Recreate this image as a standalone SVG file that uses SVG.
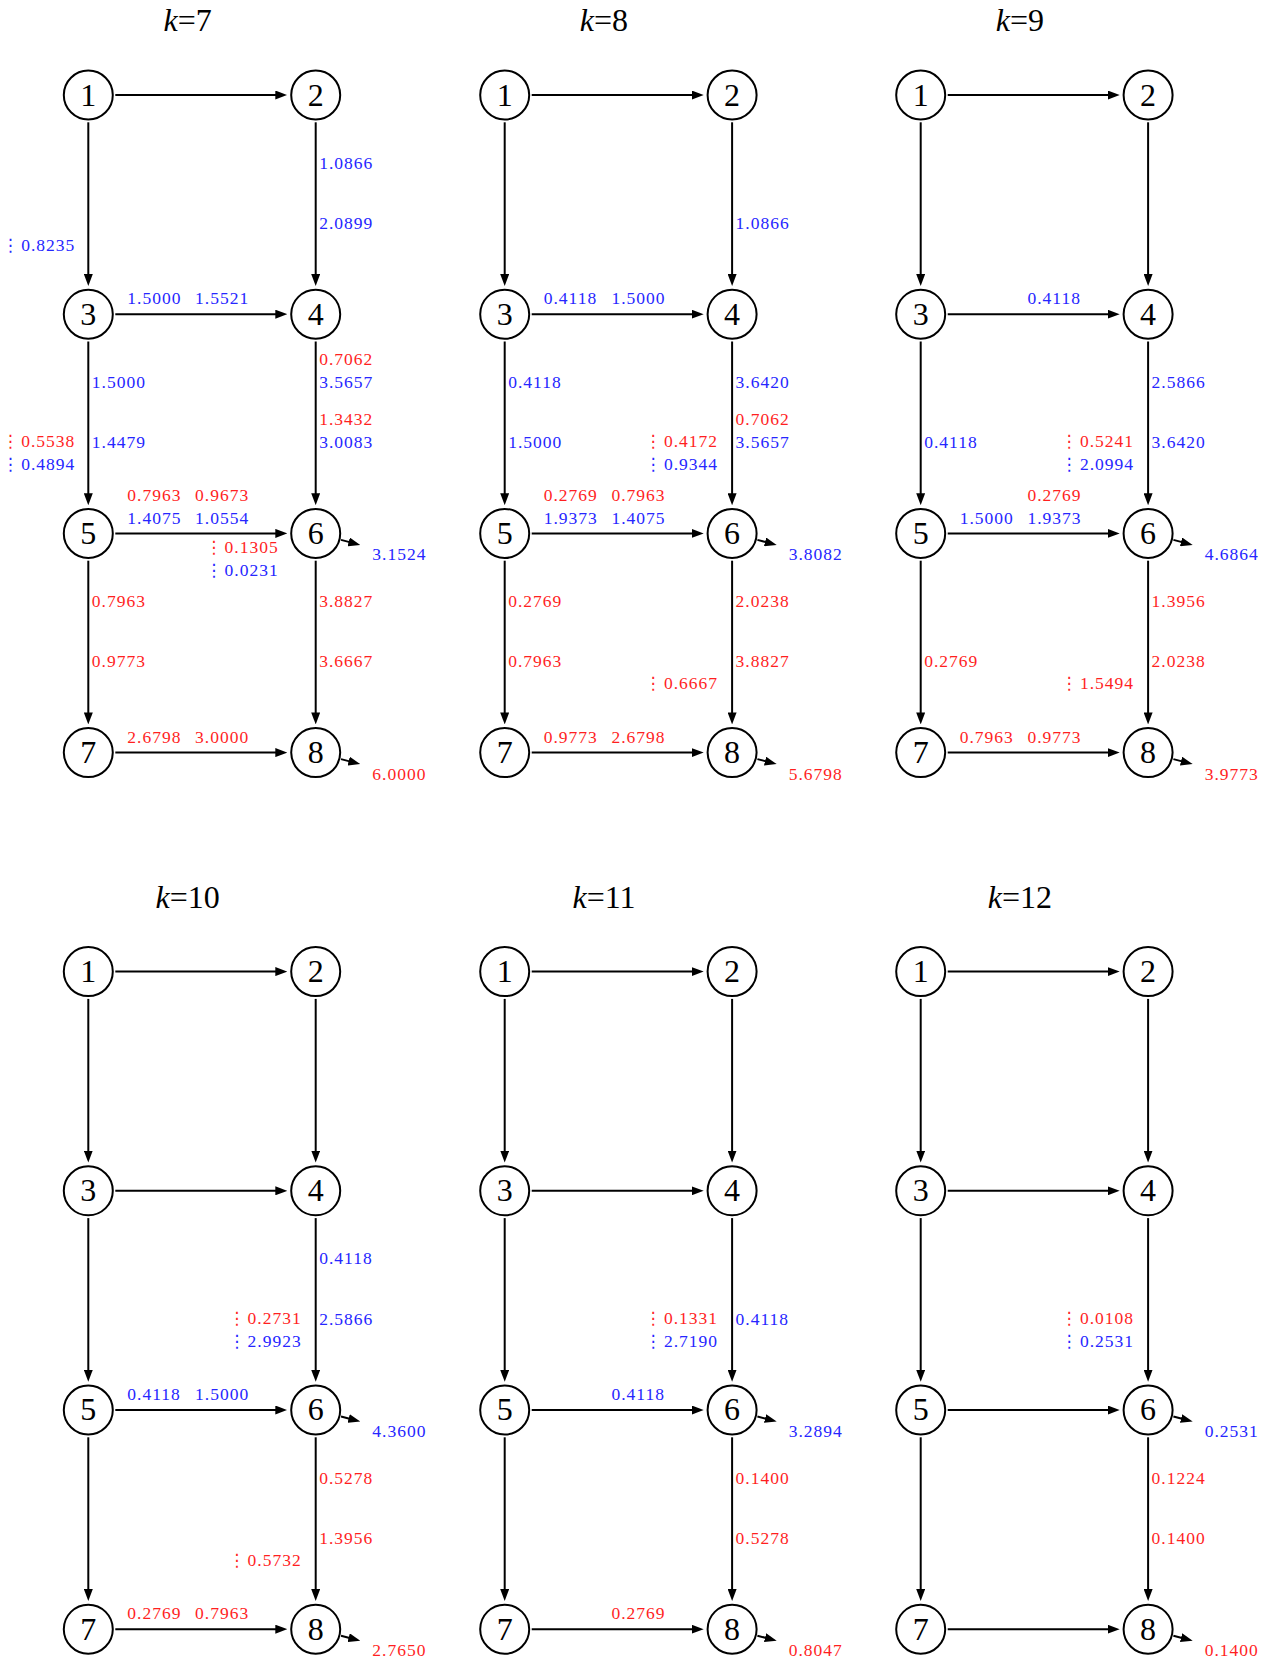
<svg xmlns="http://www.w3.org/2000/svg" width="1271" height="1661" viewBox="0 0 1271 1661">
<style>
.bg{fill:#fff}
.node circle{fill:#fff;stroke:#000;stroke-width:2}
.node text{font-family:"Liberation Serif","DejaVu Serif",serif;font-size:32px;text-anchor:middle;fill:#000}
.title{font-family:"Liberation Serif","DejaVu Serif",serif;font-size:32px;text-anchor:middle;fill:#000}
.edges line{stroke:#000;stroke-width:2;fill:none;marker-end:url(#ah)}
.labels text{font-family:"Liberation Serif","DejaVu Serif",serif;font-size:17.5px;letter-spacing:1px}
.r{fill:#ff1f1f}
.b{fill:#2626ff}
.e{text-anchor:end}
.vd{font-family:"DejaVu Sans",sans-serif;font-size:17px;letter-spacing:-3px}
</style>
<defs>
<marker id="ah" markerUnits="userSpaceOnUse" markerWidth="12" markerHeight="9" refX="2" refY="4.5" orient="auto">
<path d="M0,0 L12,4.5 L0,9 Z" fill="#000"/>
</marker>
</defs>
<rect class="bg" x="0" y="0" width="1271" height="1661"/>

<!-- k=7 -->
<g id="k7" transform="translate(0,0)">
<text class="title" x="187.6" y="31"><tspan font-style="italic">k</tspan>=7</text>
<g id="k7-connectors" class="edges">
<line x1="115.3" y1="95" x2="277.3" y2="95"/>
<line x1="88.3" y1="122.3" x2="88.3" y2="276"/>
<line x1="315.7" y1="122.3" x2="315.7" y2="276"/>
<line x1="115.3" y1="314.2" x2="277.3" y2="314.2"/>
<line x1="88.3" y1="341.5" x2="88.3" y2="495.2"/>
<line x1="315.7" y1="341.5" x2="315.7" y2="495.2"/>
<line x1="115.3" y1="533.4" x2="277.3" y2="533.4"/>
<line x1="88.3" y1="560.7" x2="88.3" y2="714.4"/>
<line x1="315.7" y1="560.7" x2="315.7" y2="714.4"/>
<line x1="115.3" y1="752.6" x2="277.3" y2="752.6"/>
<line x1="341" y1="539.9" x2="350.6" y2="542.4"/>
<line x1="341" y1="759.1" x2="350.6" y2="761.6"/>
</g>
<g id="k7-n1" class="node"><circle cx="88.3" cy="95" r="24.5"/><text x="88.3" y="105.5">1</text></g>
<g id="k7-n2" class="node"><circle cx="315.7" cy="95" r="24.5"/><text x="315.7" y="105.5">2</text></g>
<g id="k7-n3" class="node"><circle cx="88.3" cy="314.2" r="24.5"/><text x="88.3" y="324.7">3</text></g>
<g id="k7-n4" class="node"><circle cx="315.7" cy="314.2" r="24.5"/><text x="315.7" y="324.7">4</text></g>
<g id="k7-n5" class="node"><circle cx="88.3" cy="533.4" r="24.5"/><text x="88.3" y="543.9">5</text></g>
<g id="k7-n6" class="node"><circle cx="315.7" cy="533.4" r="24.5"/><text x="315.7" y="543.9">6</text></g>
<g id="k7-n7" class="node"><circle cx="88.3" cy="752.6" r="24.5"/><text x="88.3" y="763.1">7</text></g>
<g id="k7-n8" class="node"><circle cx="315.7" cy="752.6" r="24.5"/><text x="315.7" y="763.1">8</text></g>
<g id="k7-labels" class="labels">
<text class="b" x="319.2" y="168.7">1.0866</text>
<text class="b" x="319.2" y="229">2.0899</text>
<text class="b e" x="75.3" y="250.8"><tspan class="vd">⋮</tspan> 0.8235</text>
<text class="b" x="127.3" y="304.4">1.5000</text>
<text class="b" x="195" y="304.4">1.5521</text>
<text class="r" x="319.2" y="364.7">0.7062</text>
<text class="b" x="319.2" y="387.9">3.5657</text>
<text class="r" x="319.2" y="425">1.3432</text>
<text class="b" x="319.2" y="448.2">3.0083</text>
<text class="b" x="91.8" y="387.9">1.5000</text>
<text class="b" x="91.8" y="448.2">1.4479</text>
<text class="r e" x="75.3" y="447.2"><tspan class="vd">⋮</tspan> 0.5538</text>
<text class="b e" x="75.3" y="470"><tspan class="vd">⋮</tspan> 0.4894</text>
<text class="r" x="127.3" y="500.9">0.7963</text>
<text class="r" x="195" y="500.9">0.9673</text>
<text class="b" x="127.3" y="523.6">1.4075</text>
<text class="b" x="195" y="523.6">1.0554</text>
<text class="r e" x="278.7" y="553.4"><tspan class="vd">⋮</tspan> 0.1305</text>
<text class="b e" x="278.7" y="576"><tspan class="vd">⋮</tspan> 0.0231</text>
<text class="b" x="372.3" y="560.4">3.1524</text>
<text class="r" x="91.8" y="607.1">0.7963</text>
<text class="r" x="91.8" y="667.4">0.9773</text>
<text class="r" x="319.2" y="607.1">3.8827</text>
<text class="r" x="319.2" y="667.4">3.6667</text>
<text class="r" x="127.3" y="742.8">2.6798</text>
<text class="r" x="195" y="742.8">3.0000</text>
<text class="r" x="372.3" y="779.6">6.0000</text>
</g>
</g>

<!-- k=8 -->
<g id="k8" transform="translate(416.4,0)">
<text class="title" x="187.6" y="31"><tspan font-style="italic">k</tspan>=8</text>
<g id="k8-connectors" class="edges">
<line x1="115.3" y1="95" x2="277.3" y2="95"/>
<line x1="88.3" y1="122.3" x2="88.3" y2="276"/>
<line x1="315.7" y1="122.3" x2="315.7" y2="276"/>
<line x1="115.3" y1="314.2" x2="277.3" y2="314.2"/>
<line x1="88.3" y1="341.5" x2="88.3" y2="495.2"/>
<line x1="315.7" y1="341.5" x2="315.7" y2="495.2"/>
<line x1="115.3" y1="533.4" x2="277.3" y2="533.4"/>
<line x1="88.3" y1="560.7" x2="88.3" y2="714.4"/>
<line x1="315.7" y1="560.7" x2="315.7" y2="714.4"/>
<line x1="115.3" y1="752.6" x2="277.3" y2="752.6"/>
<line x1="341" y1="539.9" x2="350.6" y2="542.4"/>
<line x1="341" y1="759.1" x2="350.6" y2="761.6"/>
</g>
<g id="k8-n1" class="node"><circle cx="88.3" cy="95" r="24.5"/><text x="88.3" y="105.5">1</text></g>
<g id="k8-n2" class="node"><circle cx="315.7" cy="95" r="24.5"/><text x="315.7" y="105.5">2</text></g>
<g id="k8-n3" class="node"><circle cx="88.3" cy="314.2" r="24.5"/><text x="88.3" y="324.7">3</text></g>
<g id="k8-n4" class="node"><circle cx="315.7" cy="314.2" r="24.5"/><text x="315.7" y="324.7">4</text></g>
<g id="k8-n5" class="node"><circle cx="88.3" cy="533.4" r="24.5"/><text x="88.3" y="543.9">5</text></g>
<g id="k8-n6" class="node"><circle cx="315.7" cy="533.4" r="24.5"/><text x="315.7" y="543.9">6</text></g>
<g id="k8-n7" class="node"><circle cx="88.3" cy="752.6" r="24.5"/><text x="88.3" y="763.1">7</text></g>
<g id="k8-n8" class="node"><circle cx="315.7" cy="752.6" r="24.5"/><text x="315.7" y="763.1">8</text></g>
<g id="k8-labels" class="labels">
<text class="b" x="319.2" y="229">1.0866</text>
<text class="b" x="127.3" y="304.4">0.4118</text>
<text class="b" x="195" y="304.4">1.5000</text>
<text class="b" x="91.8" y="387.9">0.4118</text>
<text class="b" x="91.8" y="448.2">1.5000</text>
<text class="b" x="319.2" y="387.9">3.6420</text>
<text class="r" x="319.2" y="425">0.7062</text>
<text class="b" x="319.2" y="448.2">3.5657</text>
<text class="r e" x="301.7" y="447.2"><tspan class="vd">⋮</tspan> 0.4172</text>
<text class="b e" x="301.7" y="470"><tspan class="vd">⋮</tspan> 0.9344</text>
<text class="r" x="127.3" y="500.9">0.2769</text>
<text class="r" x="195" y="500.9">0.7963</text>
<text class="b" x="127.3" y="523.6">1.9373</text>
<text class="b" x="195" y="523.6">1.4075</text>
<text class="b" x="372.3" y="560.4">3.8082</text>
<text class="r" x="91.8" y="607.1">0.2769</text>
<text class="r" x="91.8" y="667.4">0.7963</text>
<text class="r" x="319.2" y="607.1">2.0238</text>
<text class="r" x="319.2" y="667.4">3.8827</text>
<text class="r e" x="301.7" y="689.2"><tspan class="vd">⋮</tspan> 0.6667</text>
<text class="r" x="127.3" y="742.8">0.9773</text>
<text class="r" x="195" y="742.8">2.6798</text>
<text class="r" x="372.3" y="779.6">5.6798</text>
</g>
</g>

<!-- k=9 -->
<g id="k9" transform="translate(832.4,0)">
<text class="title" x="187.6" y="31"><tspan font-style="italic">k</tspan>=9</text>
<g id="k9-connectors" class="edges">
<line x1="115.3" y1="95" x2="277.3" y2="95"/>
<line x1="88.3" y1="122.3" x2="88.3" y2="276"/>
<line x1="315.7" y1="122.3" x2="315.7" y2="276"/>
<line x1="115.3" y1="314.2" x2="277.3" y2="314.2"/>
<line x1="88.3" y1="341.5" x2="88.3" y2="495.2"/>
<line x1="315.7" y1="341.5" x2="315.7" y2="495.2"/>
<line x1="115.3" y1="533.4" x2="277.3" y2="533.4"/>
<line x1="88.3" y1="560.7" x2="88.3" y2="714.4"/>
<line x1="315.7" y1="560.7" x2="315.7" y2="714.4"/>
<line x1="115.3" y1="752.6" x2="277.3" y2="752.6"/>
<line x1="341" y1="539.9" x2="350.6" y2="542.4"/>
<line x1="341" y1="759.1" x2="350.6" y2="761.6"/>
</g>
<g id="k9-n1" class="node"><circle cx="88.3" cy="95" r="24.5"/><text x="88.3" y="105.5">1</text></g>
<g id="k9-n2" class="node"><circle cx="315.7" cy="95" r="24.5"/><text x="315.7" y="105.5">2</text></g>
<g id="k9-n3" class="node"><circle cx="88.3" cy="314.2" r="24.5"/><text x="88.3" y="324.7">3</text></g>
<g id="k9-n4" class="node"><circle cx="315.7" cy="314.2" r="24.5"/><text x="315.7" y="324.7">4</text></g>
<g id="k9-n5" class="node"><circle cx="88.3" cy="533.4" r="24.5"/><text x="88.3" y="543.9">5</text></g>
<g id="k9-n6" class="node"><circle cx="315.7" cy="533.4" r="24.5"/><text x="315.7" y="543.9">6</text></g>
<g id="k9-n7" class="node"><circle cx="88.3" cy="752.6" r="24.5"/><text x="88.3" y="763.1">7</text></g>
<g id="k9-n8" class="node"><circle cx="315.7" cy="752.6" r="24.5"/><text x="315.7" y="763.1">8</text></g>
<g id="k9-labels" class="labels">
<text class="b" x="195" y="304.4">0.4118</text>
<text class="b" x="91.8" y="448.2">0.4118</text>
<text class="b" x="319.2" y="387.9">2.5866</text>
<text class="b" x="319.2" y="448.2">3.6420</text>
<text class="r e" x="301.7" y="447.2"><tspan class="vd">⋮</tspan> 0.5241</text>
<text class="b e" x="301.7" y="470"><tspan class="vd">⋮</tspan> 2.0994</text>
<text class="r" x="195" y="500.9">0.2769</text>
<text class="b" x="127.3" y="523.6">1.5000</text>
<text class="b" x="195" y="523.6">1.9373</text>
<text class="b" x="372.3" y="560.4">4.6864</text>
<text class="r" x="91.8" y="667.4">0.2769</text>
<text class="r" x="319.2" y="607.1">1.3956</text>
<text class="r" x="319.2" y="667.4">2.0238</text>
<text class="r e" x="301.7" y="689.2"><tspan class="vd">⋮</tspan> 1.5494</text>
<text class="r" x="127.3" y="742.8">0.7963</text>
<text class="r" x="195" y="742.8">0.9773</text>
<text class="r" x="372.3" y="779.6">3.9773</text>
</g>
</g>

<!-- k=10 -->
<g id="k10" transform="translate(0,876.6)">
<text class="title" x="187.6" y="31"><tspan font-style="italic">k</tspan>=10</text>
<g id="k10-connectors" class="edges">
<line x1="115.3" y1="95" x2="277.3" y2="95"/>
<line x1="88.3" y1="122.3" x2="88.3" y2="276"/>
<line x1="315.7" y1="122.3" x2="315.7" y2="276"/>
<line x1="115.3" y1="314.2" x2="277.3" y2="314.2"/>
<line x1="88.3" y1="341.5" x2="88.3" y2="495.2"/>
<line x1="315.7" y1="341.5" x2="315.7" y2="495.2"/>
<line x1="115.3" y1="533.4" x2="277.3" y2="533.4"/>
<line x1="88.3" y1="560.7" x2="88.3" y2="714.4"/>
<line x1="315.7" y1="560.7" x2="315.7" y2="714.4"/>
<line x1="115.3" y1="752.6" x2="277.3" y2="752.6"/>
<line x1="341" y1="539.9" x2="350.6" y2="542.4"/>
<line x1="341" y1="759.1" x2="350.6" y2="761.6"/>
</g>
<g id="k10-n1" class="node"><circle cx="88.3" cy="95" r="24.5"/><text x="88.3" y="105.5">1</text></g>
<g id="k10-n2" class="node"><circle cx="315.7" cy="95" r="24.5"/><text x="315.7" y="105.5">2</text></g>
<g id="k10-n3" class="node"><circle cx="88.3" cy="314.2" r="24.5"/><text x="88.3" y="324.7">3</text></g>
<g id="k10-n4" class="node"><circle cx="315.7" cy="314.2" r="24.5"/><text x="315.7" y="324.7">4</text></g>
<g id="k10-n5" class="node"><circle cx="88.3" cy="533.4" r="24.5"/><text x="88.3" y="543.9">5</text></g>
<g id="k10-n6" class="node"><circle cx="315.7" cy="533.4" r="24.5"/><text x="315.7" y="543.9">6</text></g>
<g id="k10-n7" class="node"><circle cx="88.3" cy="752.6" r="24.5"/><text x="88.3" y="763.1">7</text></g>
<g id="k10-n8" class="node"><circle cx="315.7" cy="752.6" r="24.5"/><text x="315.7" y="763.1">8</text></g>
<g id="k10-labels" class="labels">
<text class="b" x="319.2" y="387.9">0.4118</text>
<text class="b" x="319.2" y="448.2">2.5866</text>
<text class="r e" x="301.7" y="447.2"><tspan class="vd">⋮</tspan> 0.2731</text>
<text class="b e" x="301.7" y="470"><tspan class="vd">⋮</tspan> 2.9923</text>
<text class="b" x="127.3" y="523.6">0.4118</text>
<text class="b" x="195" y="523.6">1.5000</text>
<text class="b" x="372.3" y="560.4">4.3600</text>
<text class="r" x="319.2" y="607.1">0.5278</text>
<text class="r" x="319.2" y="667.4">1.3956</text>
<text class="r e" x="301.7" y="689.2"><tspan class="vd">⋮</tspan> 0.5732</text>
<text class="r" x="127.3" y="742.8">0.2769</text>
<text class="r" x="195" y="742.8">0.7963</text>
<text class="r" x="372.3" y="779.6">2.7650</text>
</g>
</g>

<!-- k=11 -->
<g id="k11" transform="translate(416.4,876.6)">
<text class="title" x="187.6" y="31"><tspan font-style="italic">k</tspan>=11</text>
<g id="k11-connectors" class="edges">
<line x1="115.3" y1="95" x2="277.3" y2="95"/>
<line x1="88.3" y1="122.3" x2="88.3" y2="276"/>
<line x1="315.7" y1="122.3" x2="315.7" y2="276"/>
<line x1="115.3" y1="314.2" x2="277.3" y2="314.2"/>
<line x1="88.3" y1="341.5" x2="88.3" y2="495.2"/>
<line x1="315.7" y1="341.5" x2="315.7" y2="495.2"/>
<line x1="115.3" y1="533.4" x2="277.3" y2="533.4"/>
<line x1="88.3" y1="560.7" x2="88.3" y2="714.4"/>
<line x1="315.7" y1="560.7" x2="315.7" y2="714.4"/>
<line x1="115.3" y1="752.6" x2="277.3" y2="752.6"/>
<line x1="341" y1="539.9" x2="350.6" y2="542.4"/>
<line x1="341" y1="759.1" x2="350.6" y2="761.6"/>
</g>
<g id="k11-n1" class="node"><circle cx="88.3" cy="95" r="24.5"/><text x="88.3" y="105.5">1</text></g>
<g id="k11-n2" class="node"><circle cx="315.7" cy="95" r="24.5"/><text x="315.7" y="105.5">2</text></g>
<g id="k11-n3" class="node"><circle cx="88.3" cy="314.2" r="24.5"/><text x="88.3" y="324.7">3</text></g>
<g id="k11-n4" class="node"><circle cx="315.7" cy="314.2" r="24.5"/><text x="315.7" y="324.7">4</text></g>
<g id="k11-n5" class="node"><circle cx="88.3" cy="533.4" r="24.5"/><text x="88.3" y="543.9">5</text></g>
<g id="k11-n6" class="node"><circle cx="315.7" cy="533.4" r="24.5"/><text x="315.7" y="543.9">6</text></g>
<g id="k11-n7" class="node"><circle cx="88.3" cy="752.6" r="24.5"/><text x="88.3" y="763.1">7</text></g>
<g id="k11-n8" class="node"><circle cx="315.7" cy="752.6" r="24.5"/><text x="315.7" y="763.1">8</text></g>
<g id="k11-labels" class="labels">
<text class="b" x="319.2" y="448.2">0.4118</text>
<text class="r e" x="301.7" y="447.2"><tspan class="vd">⋮</tspan> 0.1331</text>
<text class="b e" x="301.7" y="470"><tspan class="vd">⋮</tspan> 2.7190</text>
<text class="b" x="195" y="523.6">0.4118</text>
<text class="b" x="372.3" y="560.4">3.2894</text>
<text class="r" x="319.2" y="607.1">0.1400</text>
<text class="r" x="319.2" y="667.4">0.5278</text>
<text class="r" x="195" y="742.8">0.2769</text>
<text class="r" x="372.3" y="779.6">0.8047</text>
</g>
</g>

<!-- k=12 -->
<g id="k12" transform="translate(832.4,876.6)">
<text class="title" x="187.6" y="31"><tspan font-style="italic">k</tspan>=12</text>
<g id="k12-connectors" class="edges">
<line x1="115.3" y1="95" x2="277.3" y2="95"/>
<line x1="88.3" y1="122.3" x2="88.3" y2="276"/>
<line x1="315.7" y1="122.3" x2="315.7" y2="276"/>
<line x1="115.3" y1="314.2" x2="277.3" y2="314.2"/>
<line x1="88.3" y1="341.5" x2="88.3" y2="495.2"/>
<line x1="315.7" y1="341.5" x2="315.7" y2="495.2"/>
<line x1="115.3" y1="533.4" x2="277.3" y2="533.4"/>
<line x1="88.3" y1="560.7" x2="88.3" y2="714.4"/>
<line x1="315.7" y1="560.7" x2="315.7" y2="714.4"/>
<line x1="115.3" y1="752.6" x2="277.3" y2="752.6"/>
<line x1="341" y1="539.9" x2="350.6" y2="542.4"/>
<line x1="341" y1="759.1" x2="350.6" y2="761.6"/>
</g>
<g id="k12-n1" class="node"><circle cx="88.3" cy="95" r="24.5"/><text x="88.3" y="105.5">1</text></g>
<g id="k12-n2" class="node"><circle cx="315.7" cy="95" r="24.5"/><text x="315.7" y="105.5">2</text></g>
<g id="k12-n3" class="node"><circle cx="88.3" cy="314.2" r="24.5"/><text x="88.3" y="324.7">3</text></g>
<g id="k12-n4" class="node"><circle cx="315.7" cy="314.2" r="24.5"/><text x="315.7" y="324.7">4</text></g>
<g id="k12-n5" class="node"><circle cx="88.3" cy="533.4" r="24.5"/><text x="88.3" y="543.9">5</text></g>
<g id="k12-n6" class="node"><circle cx="315.7" cy="533.4" r="24.5"/><text x="315.7" y="543.9">6</text></g>
<g id="k12-n7" class="node"><circle cx="88.3" cy="752.6" r="24.5"/><text x="88.3" y="763.1">7</text></g>
<g id="k12-n8" class="node"><circle cx="315.7" cy="752.6" r="24.5"/><text x="315.7" y="763.1">8</text></g>
<g id="k12-labels" class="labels">
<text class="r e" x="301.7" y="447.2"><tspan class="vd">⋮</tspan> 0.0108</text>
<text class="b e" x="301.7" y="470"><tspan class="vd">⋮</tspan> 0.2531</text>
<text class="b" x="372.3" y="560.4">0.2531</text>
<text class="r" x="319.2" y="607.1">0.1224</text>
<text class="r" x="319.2" y="667.4">0.1400</text>
<text class="r" x="372.3" y="779.6">0.1400</text>
</g>
</g>
</svg>
